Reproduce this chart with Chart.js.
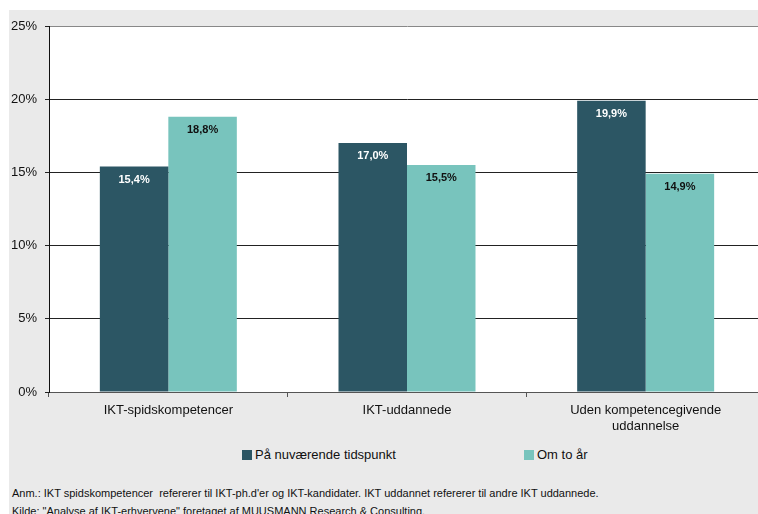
<!DOCTYPE html>
<html>
<head>
<meta charset="utf-8">
<script src="https://cdn.jsdelivr.net/npm/chart.js@4"></script>
<style>
  body { margin: 0; background: #fff; font-family: "Liberation Sans", Arial, sans-serif; }
  #boks { position: absolute; left: 9px; top: 10px; width: 749px; height: 504px; background: #eaeaea; overflow: hidden; }
  #grafik { position: absolute; left: 0; top: 0; }
  .leg { position: absolute; top: 437px; font-size: 13px; color: #111; white-space: nowrap; }
  .leg i { display: inline-block; width: 10px; height: 10px; margin-right: 3px; vertical-align: -1px; }
  .note { position: absolute; left: 3px; font-size: 11px; color: #111; white-space: nowrap; }
</style>
</head>
<body>
<div id="boks">
  <canvas id="grafik" width="756" height="420"></canvas>
  <div class="leg" style="left:233px"><i style="background:#2c5664"></i>På nuværende tidspunkt</div>
  <div class="leg" style="left:515px"><i style="background:#78c4bd"></i>Om to år</div>
  <div class="note" style="top:477px">Anm.: IKT spidskompetencer&nbsp; refererer til IKT-ph.d'er og IKT-kandidater. IKT uddannet refererer til andre IKT uddannede.</div>
  <div class="note" style="top:495px">Kilde: "Analyse af IKT-erhvervene" foretaget af MUUSMANN Research &amp; Consulting.</div>
</div>
<script>
const kategorier = ['IKT-spidskompetencer', 'IKT-uddannede', ['Uden kompetencegivende', 'uddannelse']];
const nuVaerdier = [15.4, 17.0, 19.9];
const omToAar = [18.8, 15.5, 14.9];
const serieNavne = ['På nuværende tidspunkt', 'Om to år'];

const mørk = '#2c5664';
const lys = '#78c4bd';

// tal inde i søjlerne, lige under toppen
const vaerdiEtiketter = {
  id: 'vaerdiEtiketter',
  afterDatasetsDraw(chart) {
    const ctx = chart.ctx;
    ctx.save();
    ctx.font = 'bold 11px "Liberation Sans", Arial, sans-serif';
    ctx.textAlign = 'center';
    ctx.textBaseline = 'middle';
    chart.data.datasets.forEach((ds, i) => {
      ctx.fillStyle = i === 0 ? '#fff' : '#111';
      chart.getDatasetMeta(i).data.forEach((bar, j) => {
        ctx.fillText(ds.data[j].toFixed(1).replace('.', ',') + '%', bar.x, bar.y + 13);
      });
    });
    ctx.restore();
  }
};

const plotBaggrund = {
  id: 'plotBaggrund',
  beforeDraw(chart) {
    const a = chart.chartArea;
    chart.ctx.save();
    chart.ctx.fillStyle = '#fff';
    chart.ctx.fillRect(a.left, a.top, a.right - a.left, a.bottom - a.top);
    chart.ctx.restore();
  }
};

new Chart(document.getElementById('grafik'), {
  type: 'bar',
  data: {
    labels: kategorier,
    datasets: [
      { label: serieNavne[0], data: nuVaerdier, backgroundColor: mørk },
      { label: serieNavne[1], data: omToAar, backgroundColor: lys }
    ]
  },
  options: {
    responsive: false,
    animation: false,
    categoryPercentage: 0.574,
    barPercentage: 1,
    layout: { padding: { top: 16, right: 0, left: 0, bottom: 0 } },
    plugins: {
      legend: { display: false },
      tooltip: { enabled: false }
    },
    scales: {
      x: {
        afterFit: s => { s.height = 38; },
        grid: { offset: true, drawOnChartArea: false, drawTicks: true, tickLength: 5, color: '#555' },
        border: { color: '#555' },
        ticks: { color: '#111', padding: 6, font: { size: 13, family: '"Liberation Sans", Arial, sans-serif' } }
      },
      y: {
        min: 0,
        max: 25,
        afterFit: s => { s.width = 40; },
        grid: {
          color: c => c.tick && c.tick.value === 25 ? '#888' : '#222',
          tickLength: 4,
          tickColor: '#222'
        },
        border: { color: '#111' },
        ticks: {
          stepSize: 5,
          padding: 8,
          color: '#111',
          font: { size: 13, family: '"Liberation Sans", Arial, sans-serif' },
          callback: v => v + '%'
        }
      }
    }
  },
  plugins: [plotBaggrund, vaerdiEtiketter]
});
</script>
</body>
</html>
